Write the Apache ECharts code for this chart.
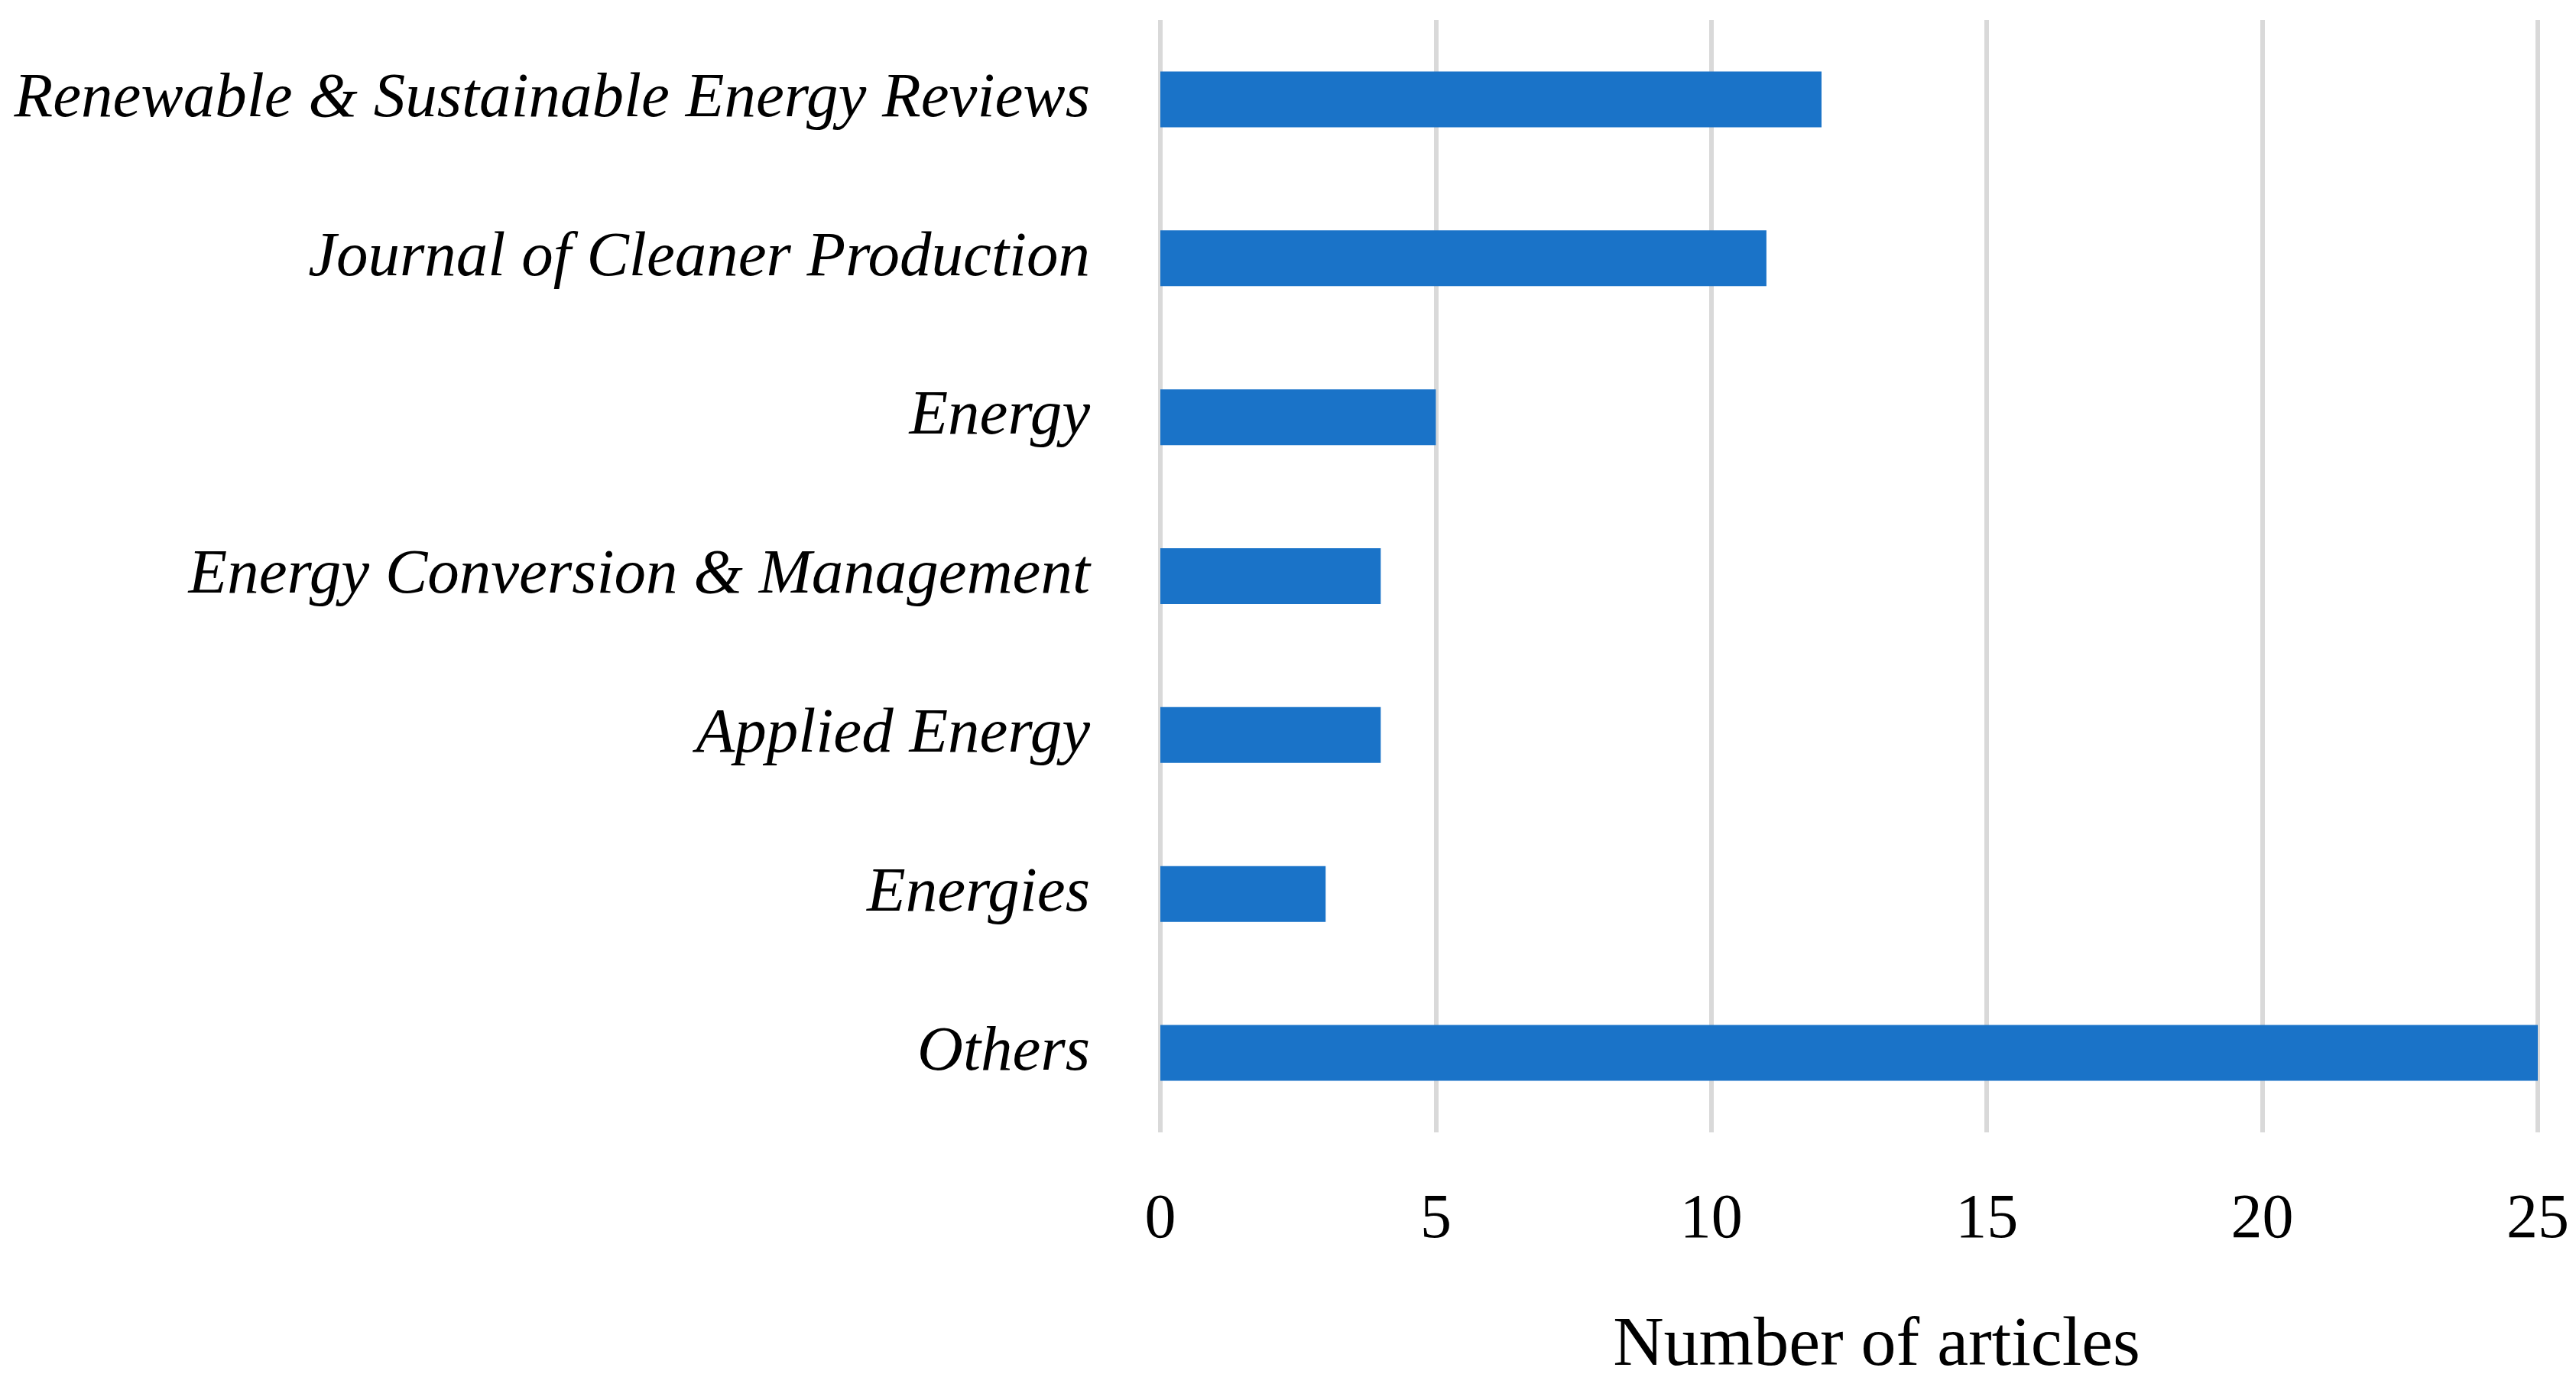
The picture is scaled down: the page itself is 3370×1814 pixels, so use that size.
<!DOCTYPE html>
<html><head><meta charset="utf-8">
<script src="https://cdn.jsdelivr.net/npm/echarts@6/dist/echarts.min.js"></script>
<style>html,body{margin:0;padding:0;background:#fff}#c{width:3370px;height:1814px}</style>
</head><body><div id="c"></div>
<script>
const categories = ["Renewable & Sustainable Energy Reviews","Journal of Cleaner Production","Energy","Energy Conversion & Management","Applied Energy","Energies","Others"];
const articleCounts = [12, 11, 5, 4, 4, 3, 25];
const xTicks = [0, 5, 10, 15, 20, 25];
const axisTitle = "Number of articles";

const chart = echarts.init(document.getElementById('c'));
chart.setOption({
  animation: false,
  backgroundColor: '#ffffff',
  grid: { left: 1518, right: 50, top: 26, bottom: 333, containLabel: false },
  xAxis: {
    type: 'value', min: xTicks[0], max: xTicks[xTicks.length-1], interval: 5,
    axisLine: { show: false }, axisTick: { show: false },
    splitLine: { show: true, lineStyle: { color: '#d9d9d9', width: 6 } },
    axisLabel: { margin: 74, fontFamily: 'Liberation Serif', fontSize: 82, color: '#000' },
    name: axisTitle, nameLocation: 'middle', nameGap: 234,
    nameTextStyle: { fontFamily: 'Liberation Serif', fontSize: 92, color: '#000', padding: [0,0,0,72] }
  },
  yAxis: {
    type: 'category', data: categories, inverse: true,
    axisLine: { show: false }, axisTick: { show: false }, splitLine: { show: false },
    axisLabel: { margin: 92, fontFamily: 'Liberation Serif', fontStyle: 'italic', fontSize: 83, color: '#000' }
  },
  series: [{
    type: 'bar', data: articleCounts, barWidth: 73,
    itemStyle: { color: '#1a73c8' }
  }]
});
</script></body></html>
